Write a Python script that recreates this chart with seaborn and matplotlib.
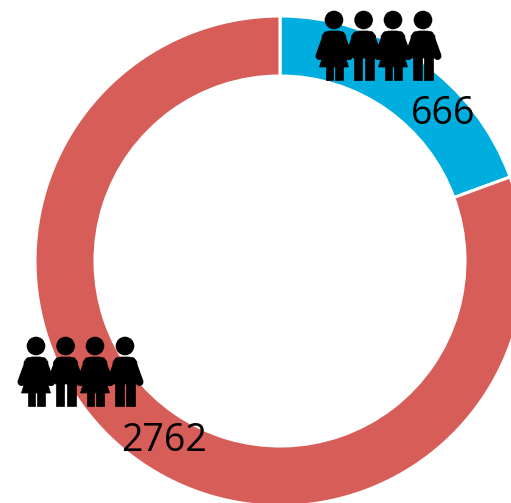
import matplotlib
matplotlib.use("Agg")
import matplotlib.pyplot as plt
import seaborn as sns
from matplotlib.patches import Circle, Polygon

# Data
categories = ["Group A", "Group B"]
counts = [666, 2762]
count_labels = ["666", "2762"]
colors = ["#00ADDF", "#D75D59"]

W, H = 511, 503
sns.set_theme(style="white")
plt.rcParams["font.family"] = ["Open Sans", "DejaVu Sans"]
palette = sns.color_palette(colors)

fig = plt.figure(figsize=(W / 100, H / 100), dpi=100)
ax = fig.add_axes([0, 0, 1, 1])
ax.pie(counts, colors=palette, startangle=90, counterclock=False,
       center=(280, H - 261), radius=245,
       wedgeprops=dict(width=60, edgecolor="white", linewidth=2.2))
ax.set_xlim(0, W)
ax.set_ylim(0, H)
ax.set_aspect("equal")
ax.axis("off")


def person(cx, top, female):
    """Pictogram; cx = centre x, top = head centre y (pixels from top)."""
    def P(pts):
        ax.add_patch(Polygon([(cx + x, H - (top + y)) for x, y in pts],
                             closed=True, fc="black", ec="black", lw=0.5, zorder=5))
    def limb(x0, y0, x1, y1, w):
        ax.plot([cx + x0, cx + x1], [H - (top + y0), H - (top + y1)], color="black",
                lw=w * 0.72, solid_capstyle="round", zorder=5)
    ax.add_patch(Circle((cx, H - top), 9.3, fc="black", ec="none", zorder=5))
    limb(-8, 18, -14.5, 36, 8)
    limb(8, 18, 14.5, 36, 8)
    if female:
        P([(-4, 11), (4, 11), (9, 12), (12, 16), (10, 32), (14.5, 47), (-14.5, 47), (-10, 32), (-12, 16), (-9, 12)])
        P([(-8.5, 46), (-1.3, 46), (-1.3, 59.5), (-8.5, 59.5)])
        P([(1.3, 46), (8.5, 46), (8.5, 59.5), (1.3, 59.5)])
    else:
        P([(-4, 11), (4, 11), (9, 12), (12, 16), (10.5, 38), (-10.5, 38), (-12, 16), (-9, 12)])
        P([(-10, 37), (-1.3, 37), (-1.3, 59.5), (-10, 59.5)])
        P([(1.3, 37), (10, 37), (10, 59.5), (1.3, 59.5)])


def group(x0, top):
    for dx, female in zip((0, 29.6, 59, 89), (True, False, True, False)):
        person(x0 + dx, top, female)


group(334, 20)
group(36, 346)

ax.text(443, H - 114, count_labels[0], fontsize=27, color="black",
        ha="center", va="center", zorder=6)
ax.text(164, H - 441, count_labels[1], fontsize=27, color="black",
        ha="center", va="center", zorder=6)

fig.savefig("out.png", dpi=100)
